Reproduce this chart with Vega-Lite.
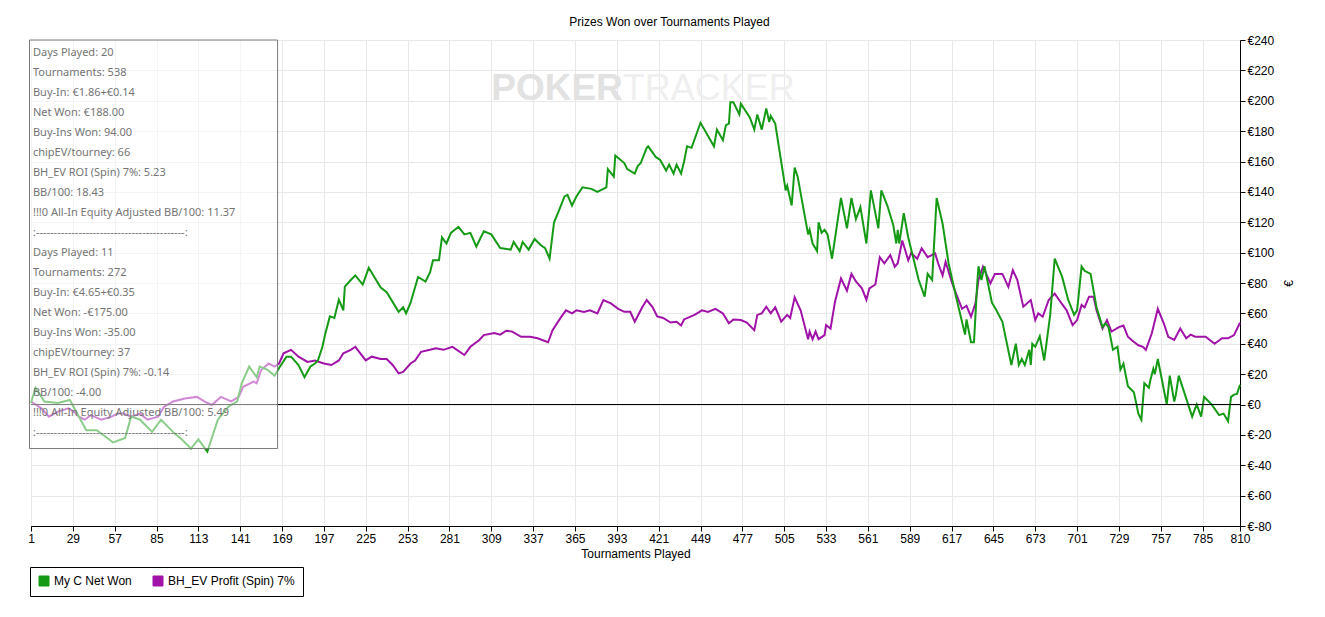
{
  "$schema": "https://vega.github.io/schema/vega-lite/v6.json",
  "width": 1209,
  "height": 486,
  "autosize": {"type": "none"},
  "padding": {"left": 31, "top": 40, "right": 85, "bottom": 91},
  "background": "white",
  "title": {
    "text": "Prizes Won over Tournaments Played",
    "anchor": "middle",
    "dx": 34,
    "offset": 5,
    "font": "Liberation Sans",
    "fontSize": 12,
    "fontWeight": "normal",
    "color": "black"
  },
  "datasets": {
    "profit": [
      {"s": "BH_EV Profit (Spin) 7%", "t": 1, "v": 2},
      {"s": "BH_EV Profit (Spin) 7%", "t": 8, "v": -2.5},
      {"s": "BH_EV Profit (Spin) 7%", "t": 13, "v": -8},
      {"s": "BH_EV Profit (Spin) 7%", "t": 19, "v": -4.7},
      {"s": "BH_EV Profit (Spin) 7%", "t": 26, "v": -2.5},
      {"s": "BH_EV Profit (Spin) 7%", "t": 30, "v": -5},
      {"s": "BH_EV Profit (Spin) 7%", "t": 33, "v": -8},
      {"s": "BH_EV Profit (Spin) 7%", "t": 37, "v": -10},
      {"s": "BH_EV Profit (Spin) 7%", "t": 41, "v": -7},
      {"s": "BH_EV Profit (Spin) 7%", "t": 48, "v": -10},
      {"s": "BH_EV Profit (Spin) 7%", "t": 55, "v": -8},
      {"s": "BH_EV Profit (Spin) 7%", "t": 59, "v": -6},
      {"s": "BH_EV Profit (Spin) 7%", "t": 63, "v": -6},
      {"s": "BH_EV Profit (Spin) 7%", "t": 68, "v": -8},
      {"s": "BH_EV Profit (Spin) 7%", "t": 74, "v": -6},
      {"s": "BH_EV Profit (Spin) 7%", "t": 79, "v": -10},
      {"s": "BH_EV Profit (Spin) 7%", "t": 86, "v": -8},
      {"s": "BH_EV Profit (Spin) 7%", "t": 90, "v": -1.5},
      {"s": "BH_EV Profit (Spin) 7%", "t": 96, "v": 2},
      {"s": "BH_EV Profit (Spin) 7%", "t": 104, "v": 4},
      {"s": "BH_EV Profit (Spin) 7%", "t": 112, "v": 5},
      {"s": "BH_EV Profit (Spin) 7%", "t": 117, "v": 2},
      {"s": "BH_EV Profit (Spin) 7%", "t": 122, "v": -0.3},
      {"s": "BH_EV Profit (Spin) 7%", "t": 128, "v": 5},
      {"s": "BH_EV Profit (Spin) 7%", "t": 135, "v": 2},
      {"s": "BH_EV Profit (Spin) 7%", "t": 140, "v": 5},
      {"s": "BH_EV Profit (Spin) 7%", "t": 143, "v": 11.7},
      {"s": "BH_EV Profit (Spin) 7%", "t": 150, "v": 15},
      {"s": "BH_EV Profit (Spin) 7%", "t": 152, "v": 14},
      {"s": "BH_EV Profit (Spin) 7%", "t": 155, "v": 22.7},
      {"s": "BH_EV Profit (Spin) 7%", "t": 160, "v": 27},
      {"s": "BH_EV Profit (Spin) 7%", "t": 164, "v": 25},
      {"s": "BH_EV Profit (Spin) 7%", "t": 167, "v": 27},
      {"s": "BH_EV Profit (Spin) 7%", "t": 170, "v": 33.7},
      {"s": "BH_EV Profit (Spin) 7%", "t": 175, "v": 36},
      {"s": "BH_EV Profit (Spin) 7%", "t": 180, "v": 31.5},
      {"s": "BH_EV Profit (Spin) 7%", "t": 186, "v": 28},
      {"s": "BH_EV Profit (Spin) 7%", "t": 191, "v": 29},
      {"s": "BH_EV Profit (Spin) 7%", "t": 197, "v": 27},
      {"s": "BH_EV Profit (Spin) 7%", "t": 202, "v": 26},
      {"s": "BH_EV Profit (Spin) 7%", "t": 207, "v": 29},
      {"s": "BH_EV Profit (Spin) 7%", "t": 210, "v": 33.7},
      {"s": "BH_EV Profit (Spin) 7%", "t": 215, "v": 36},
      {"s": "BH_EV Profit (Spin) 7%", "t": 218, "v": 38},
      {"s": "BH_EV Profit (Spin) 7%", "t": 225, "v": 29},
      {"s": "BH_EV Profit (Spin) 7%", "t": 229, "v": 31.5},
      {"s": "BH_EV Profit (Spin) 7%", "t": 235, "v": 30},
      {"s": "BH_EV Profit (Spin) 7%", "t": 239, "v": 30},
      {"s": "BH_EV Profit (Spin) 7%", "t": 243, "v": 26},
      {"s": "BH_EV Profit (Spin) 7%", "t": 247, "v": 20.5},
      {"s": "BH_EV Profit (Spin) 7%", "t": 250, "v": 21.5},
      {"s": "BH_EV Profit (Spin) 7%", "t": 255, "v": 27},
      {"s": "BH_EV Profit (Spin) 7%", "t": 258, "v": 29},
      {"s": "BH_EV Profit (Spin) 7%", "t": 262, "v": 34.7},
      {"s": "BH_EV Profit (Spin) 7%", "t": 268, "v": 36},
      {"s": "BH_EV Profit (Spin) 7%", "t": 272, "v": 37},
      {"s": "BH_EV Profit (Spin) 7%", "t": 277, "v": 36},
      {"s": "BH_EV Profit (Spin) 7%", "t": 283, "v": 38},
      {"s": "BH_EV Profit (Spin) 7%", "t": 286, "v": 36},
      {"s": "BH_EV Profit (Spin) 7%", "t": 291, "v": 32.6},
      {"s": "BH_EV Profit (Spin) 7%", "t": 295, "v": 38},
      {"s": "BH_EV Profit (Spin) 7%", "t": 301, "v": 42.5},
      {"s": "BH_EV Profit (Spin) 7%", "t": 304, "v": 45.7},
      {"s": "BH_EV Profit (Spin) 7%", "t": 311, "v": 47},
      {"s": "BH_EV Profit (Spin) 7%", "t": 315, "v": 46},
      {"s": "BH_EV Profit (Spin) 7%", "t": 319, "v": 48.6},
      {"s": "BH_EV Profit (Spin) 7%", "t": 323, "v": 48},
      {"s": "BH_EV Profit (Spin) 7%", "t": 329, "v": 44.6},
      {"s": "BH_EV Profit (Spin) 7%", "t": 335, "v": 44.6},
      {"s": "BH_EV Profit (Spin) 7%", "t": 340, "v": 43.6},
      {"s": "BH_EV Profit (Spin) 7%", "t": 347, "v": 41},
      {"s": "BH_EV Profit (Spin) 7%", "t": 350, "v": 49},
      {"s": "BH_EV Profit (Spin) 7%", "t": 356, "v": 58},
      {"s": "BH_EV Profit (Spin) 7%", "t": 359, "v": 62},
      {"s": "BH_EV Profit (Spin) 7%", "t": 363, "v": 60},
      {"s": "BH_EV Profit (Spin) 7%", "t": 366, "v": 62},
      {"s": "BH_EV Profit (Spin) 7%", "t": 371, "v": 61},
      {"s": "BH_EV Profit (Spin) 7%", "t": 375, "v": 62},
      {"s": "BH_EV Profit (Spin) 7%", "t": 380, "v": 60},
      {"s": "BH_EV Profit (Spin) 7%", "t": 384, "v": 68.8},
      {"s": "BH_EV Profit (Spin) 7%", "t": 389, "v": 66.6},
      {"s": "BH_EV Profit (Spin) 7%", "t": 394, "v": 63},
      {"s": "BH_EV Profit (Spin) 7%", "t": 398, "v": 61},
      {"s": "BH_EV Profit (Spin) 7%", "t": 402, "v": 61},
      {"s": "BH_EV Profit (Spin) 7%", "t": 405, "v": 54.5},
      {"s": "BH_EV Profit (Spin) 7%", "t": 410, "v": 64},
      {"s": "BH_EV Profit (Spin) 7%", "t": 413, "v": 68.8},
      {"s": "BH_EV Profit (Spin) 7%", "t": 417, "v": 64},
      {"s": "BH_EV Profit (Spin) 7%", "t": 420, "v": 58},
      {"s": "BH_EV Profit (Spin) 7%", "t": 424, "v": 57},
      {"s": "BH_EV Profit (Spin) 7%", "t": 429, "v": 54},
      {"s": "BH_EV Profit (Spin) 7%", "t": 433, "v": 54.5},
      {"s": "BH_EV Profit (Spin) 7%", "t": 436, "v": 52},
      {"s": "BH_EV Profit (Spin) 7%", "t": 438, "v": 56},
      {"s": "BH_EV Profit (Spin) 7%", "t": 445, "v": 59},
      {"s": "BH_EV Profit (Spin) 7%", "t": 450, "v": 62},
      {"s": "BH_EV Profit (Spin) 7%", "t": 454, "v": 61},
      {"s": "BH_EV Profit (Spin) 7%", "t": 459, "v": 63},
      {"s": "BH_EV Profit (Spin) 7%", "t": 464, "v": 60},
      {"s": "BH_EV Profit (Spin) 7%", "t": 468, "v": 53.5},
      {"s": "BH_EV Profit (Spin) 7%", "t": 471, "v": 56},
      {"s": "BH_EV Profit (Spin) 7%", "t": 476, "v": 55.6},
      {"s": "BH_EV Profit (Spin) 7%", "t": 480, "v": 54},
      {"s": "BH_EV Profit (Spin) 7%", "t": 485, "v": 49},
      {"s": "BH_EV Profit (Spin) 7%", "t": 487, "v": 59},
      {"s": "BH_EV Profit (Spin) 7%", "t": 490, "v": 60},
      {"s": "BH_EV Profit (Spin) 7%", "t": 493, "v": 64.4},
      {"s": "BH_EV Profit (Spin) 7%", "t": 496, "v": 60},
      {"s": "BH_EV Profit (Spin) 7%", "t": 499, "v": 64},
      {"s": "BH_EV Profit (Spin) 7%", "t": 503, "v": 54.5},
      {"s": "BH_EV Profit (Spin) 7%", "t": 507, "v": 59},
      {"s": "BH_EV Profit (Spin) 7%", "t": 509, "v": 57},
      {"s": "BH_EV Profit (Spin) 7%", "t": 512, "v": 70.6},
      {"s": "BH_EV Profit (Spin) 7%", "t": 516, "v": 62},
      {"s": "BH_EV Profit (Spin) 7%", "t": 521, "v": 43},
      {"s": "BH_EV Profit (Spin) 7%", "t": 522, "v": 48},
      {"s": "BH_EV Profit (Spin) 7%", "t": 524, "v": 43},
      {"s": "BH_EV Profit (Spin) 7%", "t": 526, "v": 48},
      {"s": "BH_EV Profit (Spin) 7%", "t": 528, "v": 43},
      {"s": "BH_EV Profit (Spin) 7%", "t": 532, "v": 45.7},
      {"s": "BH_EV Profit (Spin) 7%", "t": 533, "v": 52.3},
      {"s": "BH_EV Profit (Spin) 7%", "t": 536, "v": 50},
      {"s": "BH_EV Profit (Spin) 7%", "t": 539, "v": 67.7},
      {"s": "BH_EV Profit (Spin) 7%", "t": 543, "v": 83},
      {"s": "BH_EV Profit (Spin) 7%", "t": 547, "v": 75},
      {"s": "BH_EV Profit (Spin) 7%", "t": 550, "v": 86},
      {"s": "BH_EV Profit (Spin) 7%", "t": 553, "v": 81},
      {"s": "BH_EV Profit (Spin) 7%", "t": 557, "v": 76.5},
      {"s": "BH_EV Profit (Spin) 7%", "t": 560, "v": 69},
      {"s": "BH_EV Profit (Spin) 7%", "t": 562, "v": 76.5},
      {"s": "BH_EV Profit (Spin) 7%", "t": 566, "v": 79},
      {"s": "BH_EV Profit (Spin) 7%", "t": 569, "v": 97},
      {"s": "BH_EV Profit (Spin) 7%", "t": 572, "v": 93},
      {"s": "BH_EV Profit (Spin) 7%", "t": 576, "v": 98.4},
      {"s": "BH_EV Profit (Spin) 7%", "t": 579, "v": 90.7},
      {"s": "BH_EV Profit (Spin) 7%", "t": 581, "v": 93},
      {"s": "BH_EV Profit (Spin) 7%", "t": 584, "v": 108},
      {"s": "BH_EV Profit (Spin) 7%", "t": 588, "v": 95},
      {"s": "BH_EV Profit (Spin) 7%", "t": 590, "v": 99.7},
      {"s": "BH_EV Profit (Spin) 7%", "t": 594, "v": 96},
      {"s": "BH_EV Profit (Spin) 7%", "t": 597, "v": 102.8},
      {"s": "BH_EV Profit (Spin) 7%", "t": 601, "v": 97},
      {"s": "BH_EV Profit (Spin) 7%", "t": 606, "v": 99.5},
      {"s": "BH_EV Profit (Spin) 7%", "t": 608, "v": 93},
      {"s": "BH_EV Profit (Spin) 7%", "t": 611, "v": 85},
      {"s": "BH_EV Profit (Spin) 7%", "t": 613, "v": 94},
      {"s": "BH_EV Profit (Spin) 7%", "t": 617, "v": 81},
      {"s": "BH_EV Profit (Spin) 7%", "t": 620, "v": 73},
      {"s": "BH_EV Profit (Spin) 7%", "t": 624, "v": 63},
      {"s": "BH_EV Profit (Spin) 7%", "t": 627, "v": 65},
      {"s": "BH_EV Profit (Spin) 7%", "t": 630, "v": 57.8},
      {"s": "BH_EV Profit (Spin) 7%", "t": 633, "v": 66.6},
      {"s": "BH_EV Profit (Spin) 7%", "t": 635, "v": 82},
      {"s": "BH_EV Profit (Spin) 7%", "t": 638, "v": 90.7},
      {"s": "BH_EV Profit (Spin) 7%", "t": 643, "v": 79.8},
      {"s": "BH_EV Profit (Spin) 7%", "t": 646, "v": 86},
      {"s": "BH_EV Profit (Spin) 7%", "t": 651, "v": 86},
      {"s": "BH_EV Profit (Spin) 7%", "t": 655, "v": 77.5},
      {"s": "BH_EV Profit (Spin) 7%", "t": 658, "v": 88.5},
      {"s": "BH_EV Profit (Spin) 7%", "t": 661, "v": 82},
      {"s": "BH_EV Profit (Spin) 7%", "t": 665, "v": 64.4},
      {"s": "BH_EV Profit (Spin) 7%", "t": 670, "v": 68.8},
      {"s": "BH_EV Profit (Spin) 7%", "t": 673, "v": 55.6},
      {"s": "BH_EV Profit (Spin) 7%", "t": 675, "v": 60},
      {"s": "BH_EV Profit (Spin) 7%", "t": 678, "v": 57.8},
      {"s": "BH_EV Profit (Spin) 7%", "t": 682, "v": 68.8},
      {"s": "BH_EV Profit (Spin) 7%", "t": 686, "v": 73},
      {"s": "BH_EV Profit (Spin) 7%", "t": 689, "v": 68.8},
      {"s": "BH_EV Profit (Spin) 7%", "t": 694, "v": 62},
      {"s": "BH_EV Profit (Spin) 7%", "t": 698, "v": 52.3},
      {"s": "BH_EV Profit (Spin) 7%", "t": 701, "v": 55.6},
      {"s": "BH_EV Profit (Spin) 7%", "t": 704, "v": 65.5},
      {"s": "BH_EV Profit (Spin) 7%", "t": 706, "v": 64},
      {"s": "BH_EV Profit (Spin) 7%", "t": 709, "v": 71},
      {"s": "BH_EV Profit (Spin) 7%", "t": 712, "v": 71},
      {"s": "BH_EV Profit (Spin) 7%", "t": 714, "v": 62},
      {"s": "BH_EV Profit (Spin) 7%", "t": 718, "v": 50},
      {"s": "BH_EV Profit (Spin) 7%", "t": 721, "v": 55.6},
      {"s": "BH_EV Profit (Spin) 7%", "t": 724, "v": 48},
      {"s": "BH_EV Profit (Spin) 7%", "t": 729, "v": 51},
      {"s": "BH_EV Profit (Spin) 7%", "t": 732, "v": 52},
      {"s": "BH_EV Profit (Spin) 7%", "t": 735, "v": 44.6},
      {"s": "BH_EV Profit (Spin) 7%", "t": 738, "v": 42},
      {"s": "BH_EV Profit (Spin) 7%", "t": 742, "v": 39},
      {"s": "BH_EV Profit (Spin) 7%", "t": 745, "v": 38},
      {"s": "BH_EV Profit (Spin) 7%", "t": 747, "v": 36},
      {"s": "BH_EV Profit (Spin) 7%", "t": 751, "v": 46.9},
      {"s": "BH_EV Profit (Spin) 7%", "t": 755, "v": 63},
      {"s": "BH_EV Profit (Spin) 7%", "t": 759, "v": 53.5},
      {"s": "BH_EV Profit (Spin) 7%", "t": 762, "v": 44.6},
      {"s": "BH_EV Profit (Spin) 7%", "t": 766, "v": 42.5},
      {"s": "BH_EV Profit (Spin) 7%", "t": 770, "v": 50},
      {"s": "BH_EV Profit (Spin) 7%", "t": 774, "v": 43.6},
      {"s": "BH_EV Profit (Spin) 7%", "t": 777, "v": 46},
      {"s": "BH_EV Profit (Spin) 7%", "t": 780, "v": 44.6},
      {"s": "BH_EV Profit (Spin) 7%", "t": 787, "v": 44.6},
      {"s": "BH_EV Profit (Spin) 7%", "t": 793, "v": 40},
      {"s": "BH_EV Profit (Spin) 7%", "t": 798, "v": 43.6},
      {"s": "BH_EV Profit (Spin) 7%", "t": 802, "v": 43.6},
      {"s": "BH_EV Profit (Spin) 7%", "t": 806, "v": 45.7},
      {"s": "BH_EV Profit (Spin) 7%", "t": 810, "v": 53.8},
      {"s": "My C Net Won", "t": 1, "v": 1},
      {"s": "My C Net Won", "t": 4, "v": 11},
      {"s": "My C Net Won", "t": 10, "v": 2},
      {"s": "My C Net Won", "t": 19, "v": 1},
      {"s": "My C Net Won", "t": 27, "v": 3},
      {"s": "My C Net Won", "t": 38, "v": -17},
      {"s": "My C Net Won", "t": 45, "v": -17},
      {"s": "My C Net Won", "t": 56, "v": -25},
      {"s": "My C Net Won", "t": 64, "v": -22},
      {"s": "My C Net Won", "t": 68, "v": -8},
      {"s": "My C Net Won", "t": 74, "v": -10},
      {"s": "My C Net Won", "t": 82, "v": -18},
      {"s": "My C Net Won", "t": 88, "v": -10},
      {"s": "My C Net Won", "t": 97, "v": -19},
      {"s": "My C Net Won", "t": 102, "v": -23},
      {"s": "My C Net Won", "t": 108, "v": -29},
      {"s": "My C Net Won", "t": 113, "v": -23},
      {"s": "My C Net Won", "t": 119, "v": -31},
      {"s": "My C Net Won", "t": 126, "v": -10},
      {"s": "My C Net Won", "t": 133, "v": -1.5},
      {"s": "My C Net Won", "t": 139, "v": 2},
      {"s": "My C Net Won", "t": 142, "v": 14},
      {"s": "My C Net Won", "t": 147, "v": 25},
      {"s": "My C Net Won", "t": 152, "v": 18},
      {"s": "My C Net Won", "t": 154, "v": 25},
      {"s": "My C Net Won", "t": 159, "v": 23},
      {"s": "My C Net Won", "t": 164, "v": 19},
      {"s": "My C Net Won", "t": 167, "v": 24},
      {"s": "My C Net Won", "t": 172, "v": 31.5},
      {"s": "My C Net Won", "t": 175, "v": 31.5},
      {"s": "My C Net Won", "t": 180, "v": 26},
      {"s": "My C Net Won", "t": 184, "v": 18},
      {"s": "My C Net Won", "t": 188, "v": 25},
      {"s": "My C Net Won", "t": 191, "v": 27},
      {"s": "My C Net Won", "t": 193, "v": 29},
      {"s": "My C Net Won", "t": 196, "v": 38},
      {"s": "My C Net Won", "t": 198, "v": 47},
      {"s": "My C Net Won", "t": 201, "v": 58},
      {"s": "My C Net Won", "t": 204, "v": 57},
      {"s": "My C Net Won", "t": 207, "v": 69},
      {"s": "My C Net Won", "t": 210, "v": 62},
      {"s": "My C Net Won", "t": 211, "v": 77.6},
      {"s": "My C Net Won", "t": 215, "v": 82},
      {"s": "My C Net Won", "t": 218, "v": 85},
      {"s": "My C Net Won", "t": 223, "v": 79},
      {"s": "My C Net Won", "t": 227, "v": 90},
      {"s": "My C Net Won", "t": 235, "v": 77},
      {"s": "My C Net Won", "t": 239, "v": 74},
      {"s": "My C Net Won", "t": 247, "v": 61},
      {"s": "My C Net Won", "t": 250, "v": 64},
      {"s": "My C Net Won", "t": 252, "v": 60},
      {"s": "My C Net Won", "t": 255, "v": 67},
      {"s": "My C Net Won", "t": 260, "v": 84},
      {"s": "My C Net Won", "t": 265, "v": 81},
      {"s": "My C Net Won", "t": 268, "v": 87},
      {"s": "My C Net Won", "t": 270, "v": 95},
      {"s": "My C Net Won", "t": 274, "v": 95},
      {"s": "My C Net Won", "t": 276, "v": 110},
      {"s": "My C Net Won", "t": 279, "v": 106},
      {"s": "My C Net Won", "t": 282, "v": 113},
      {"s": "My C Net Won", "t": 287, "v": 117},
      {"s": "My C Net Won", "t": 291, "v": 112},
      {"s": "My C Net Won", "t": 295, "v": 113},
      {"s": "My C Net Won", "t": 299, "v": 104},
      {"s": "My C Net Won", "t": 304, "v": 114},
      {"s": "My C Net Won", "t": 309, "v": 112},
      {"s": "My C Net Won", "t": 315, "v": 103},
      {"s": "My C Net Won", "t": 322, "v": 102},
      {"s": "My C Net Won", "t": 324, "v": 107},
      {"s": "My C Net Won", "t": 328, "v": 101},
      {"s": "My C Net Won", "t": 330, "v": 107},
      {"s": "My C Net Won", "t": 334, "v": 102},
      {"s": "My C Net Won", "t": 338, "v": 109},
      {"s": "My C Net Won", "t": 342, "v": 105},
      {"s": "My C Net Won", "t": 345, "v": 103},
      {"s": "My C Net Won", "t": 348, "v": 96},
      {"s": "My C Net Won", "t": 351, "v": 120},
      {"s": "My C Net Won", "t": 354, "v": 127},
      {"s": "My C Net Won", "t": 358, "v": 137},
      {"s": "My C Net Won", "t": 360, "v": 138},
      {"s": "My C Net Won", "t": 363, "v": 131},
      {"s": "My C Net Won", "t": 366, "v": 137},
      {"s": "My C Net Won", "t": 370, "v": 143},
      {"s": "My C Net Won", "t": 376, "v": 142},
      {"s": "My C Net Won", "t": 380, "v": 140},
      {"s": "My C Net Won", "t": 386, "v": 143},
      {"s": "My C Net Won", "t": 387, "v": 155},
      {"s": "My C Net Won", "t": 391, "v": 150},
      {"s": "My C Net Won", "t": 392, "v": 164},
      {"s": "My C Net Won", "t": 398, "v": 159},
      {"s": "My C Net Won", "t": 400, "v": 155},
      {"s": "My C Net Won", "t": 405, "v": 152},
      {"s": "My C Net Won", "t": 407, "v": 157},
      {"s": "My C Net Won", "t": 409, "v": 159},
      {"s": "My C Net Won", "t": 413, "v": 169},
      {"s": "My C Net Won", "t": 414, "v": 170},
      {"s": "My C Net Won", "t": 419, "v": 163},
      {"s": "My C Net Won", "t": 422, "v": 161},
      {"s": "My C Net Won", "t": 426, "v": 154},
      {"s": "My C Net Won", "t": 428, "v": 158},
      {"s": "My C Net Won", "t": 431, "v": 152},
      {"s": "My C Net Won", "t": 433, "v": 158},
      {"s": "My C Net Won", "t": 436, "v": 152},
      {"s": "My C Net Won", "t": 438, "v": 160},
      {"s": "My C Net Won", "t": 440, "v": 170},
      {"s": "My C Net Won", "t": 443, "v": 169},
      {"s": "My C Net Won", "t": 449, "v": 185.5},
      {"s": "My C Net Won", "t": 458, "v": 170},
      {"s": "My C Net Won", "t": 460, "v": 181},
      {"s": "My C Net Won", "t": 464, "v": 174},
      {"s": "My C Net Won", "t": 466, "v": 184},
      {"s": "My C Net Won", "t": 468, "v": 185},
      {"s": "My C Net Won", "t": 469, "v": 199},
      {"s": "My C Net Won", "t": 471, "v": 199},
      {"s": "My C Net Won", "t": 475, "v": 191},
      {"s": "My C Net Won", "t": 476, "v": 198},
      {"s": "My C Net Won", "t": 482, "v": 189},
      {"s": "My C Net Won", "t": 485, "v": 181},
      {"s": "My C Net Won", "t": 487, "v": 191},
      {"s": "My C Net Won", "t": 490, "v": 181},
      {"s": "My C Net Won", "t": 493, "v": 195},
      {"s": "My C Net Won", "t": 495, "v": 186},
      {"s": "My C Net Won", "t": 496, "v": 190},
      {"s": "My C Net Won", "t": 499, "v": 185},
      {"s": "My C Net Won", "t": 506, "v": 141},
      {"s": "My C Net Won", "t": 507, "v": 144},
      {"s": "My C Net Won", "t": 510, "v": 131},
      {"s": "My C Net Won", "t": 512, "v": 156},
      {"s": "My C Net Won", "t": 514, "v": 150},
      {"s": "My C Net Won", "t": 521, "v": 112},
      {"s": "My C Net Won", "t": 522, "v": 115},
      {"s": "My C Net Won", "t": 524, "v": 106},
      {"s": "My C Net Won", "t": 527, "v": 101},
      {"s": "My C Net Won", "t": 528, "v": 120},
      {"s": "My C Net Won", "t": 530, "v": 113},
      {"s": "My C Net Won", "t": 532, "v": 115},
      {"s": "My C Net Won", "t": 534, "v": 112},
      {"s": "My C Net Won", "t": 537, "v": 96},
      {"s": "My C Net Won", "t": 543, "v": 136},
      {"s": "My C Net Won", "t": 547, "v": 116},
      {"s": "My C Net Won", "t": 550, "v": 136},
      {"s": "My C Net Won", "t": 553, "v": 122},
      {"s": "My C Net Won", "t": 556, "v": 130},
      {"s": "My C Net Won", "t": 560, "v": 106},
      {"s": "My C Net Won", "t": 563, "v": 141},
      {"s": "My C Net Won", "t": 568, "v": 116},
      {"s": "My C Net Won", "t": 570, "v": 141},
      {"s": "My C Net Won", "t": 574, "v": 131},
      {"s": "My C Net Won", "t": 578, "v": 118},
      {"s": "My C Net Won", "t": 580, "v": 106},
      {"s": "My C Net Won", "t": 581, "v": 115},
      {"s": "My C Net Won", "t": 582, "v": 106},
      {"s": "My C Net Won", "t": 585, "v": 126},
      {"s": "My C Net Won", "t": 588, "v": 110},
      {"s": "My C Net Won", "t": 595, "v": 82},
      {"s": "My C Net Won", "t": 599, "v": 71},
      {"s": "My C Net Won", "t": 601, "v": 86},
      {"s": "My C Net Won", "t": 604, "v": 82},
      {"s": "My C Net Won", "t": 607, "v": 136},
      {"s": "My C Net Won", "t": 611, "v": 119},
      {"s": "My C Net Won", "t": 615, "v": 93},
      {"s": "My C Net Won", "t": 620, "v": 71},
      {"s": "My C Net Won", "t": 626, "v": 46},
      {"s": "My C Net Won", "t": 627, "v": 56},
      {"s": "My C Net Won", "t": 630, "v": 41},
      {"s": "My C Net Won", "t": 632, "v": 41},
      {"s": "My C Net Won", "t": 634, "v": 77},
      {"s": "My C Net Won", "t": 635, "v": 91},
      {"s": "My C Net Won", "t": 637, "v": 82},
      {"s": "My C Net Won", "t": 639, "v": 91},
      {"s": "My C Net Won", "t": 644, "v": 67},
      {"s": "My C Net Won", "t": 647, "v": 62},
      {"s": "My C Net Won", "t": 651, "v": 54.5},
      {"s": "My C Net Won", "t": 657, "v": 26},
      {"s": "My C Net Won", "t": 660, "v": 40},
      {"s": "My C Net Won", "t": 662, "v": 26},
      {"s": "My C Net Won", "t": 664, "v": 30},
      {"s": "My C Net Won", "t": 666, "v": 26},
      {"s": "My C Net Won", "t": 669, "v": 36},
      {"s": "My C Net Won", "t": 670, "v": 26},
      {"s": "My C Net Won", "t": 671, "v": 40},
      {"s": "My C Net Won", "t": 673, "v": 38},
      {"s": "My C Net Won", "t": 676, "v": 45},
      {"s": "My C Net Won", "t": 679, "v": 29},
      {"s": "My C Net Won", "t": 683, "v": 59},
      {"s": "My C Net Won", "t": 686, "v": 96},
      {"s": "My C Net Won", "t": 691, "v": 84},
      {"s": "My C Net Won", "t": 695, "v": 69},
      {"s": "My C Net Won", "t": 699, "v": 59},
      {"s": "My C Net Won", "t": 701, "v": 62},
      {"s": "My C Net Won", "t": 704, "v": 91},
      {"s": "My C Net Won", "t": 706, "v": 88},
      {"s": "My C Net Won", "t": 710, "v": 86},
      {"s": "My C Net Won", "t": 714, "v": 64},
      {"s": "My C Net Won", "t": 718, "v": 51},
      {"s": "My C Net Won", "t": 720, "v": 53.5},
      {"s": "My C Net Won", "t": 722, "v": 51},
      {"s": "My C Net Won", "t": 725, "v": 36},
      {"s": "My C Net Won", "t": 728, "v": 38},
      {"s": "My C Net Won", "t": 730, "v": 23},
      {"s": "My C Net Won", "t": 732, "v": 27},
      {"s": "My C Net Won", "t": 735, "v": 12},
      {"s": "My C Net Won", "t": 739, "v": 8},
      {"s": "My C Net Won", "t": 742, "v": -6},
      {"s": "My C Net Won", "t": 744, "v": -10},
      {"s": "My C Net Won", "t": 746, "v": 14},
      {"s": "My C Net Won", "t": 749, "v": 11},
      {"s": "My C Net Won", "t": 750, "v": 16},
      {"s": "My C Net Won", "t": 752, "v": 23.5},
      {"s": "My C Net Won", "t": 753, "v": 20},
      {"s": "My C Net Won", "t": 755, "v": 30},
      {"s": "My C Net Won", "t": 761, "v": 0},
      {"s": "My C Net Won", "t": 763, "v": 19},
      {"s": "My C Net Won", "t": 766, "v": 2},
      {"s": "My C Net Won", "t": 767, "v": 6},
      {"s": "My C Net Won", "t": 769, "v": 19},
      {"s": "My C Net Won", "t": 774, "v": 4},
      {"s": "My C Net Won", "t": 778, "v": -8},
      {"s": "My C Net Won", "t": 781, "v": 0},
      {"s": "My C Net Won", "t": 784, "v": -8},
      {"s": "My C Net Won", "t": 786, "v": 5},
      {"s": "My C Net Won", "t": 791, "v": 0},
      {"s": "My C Net Won", "t": 796, "v": -7},
      {"s": "My C Net Won", "t": 799, "v": -6},
      {"s": "My C Net Won", "t": 802, "v": -11},
      {"s": "My C Net Won", "t": 804, "v": 5},
      {"s": "My C Net Won", "t": 806, "v": 6.5},
      {"s": "My C Net Won", "t": 808, "v": 7},
      {"s": "My C Net Won", "t": 810, "v": 13}
    ]
  },
  "resolve": {"axis": {"x": "independent", "y": "independent"}},
  "layer": [
    {
      "data": {"name": "profit"},
      "mark": {"type": "line", "strokeWidth": 2, "interpolate": "linear"},
      "encoding": {
        "x": {
          "field": "t",
          "type": "quantitative",
          "scale": {"domain": [1, 810], "nice": false, "zero": false},
          "axis": {
            "title": "Tournaments Played",
            "grid": true,
            "values": [1, 29, 57, 85, 113, 141, 169, 197, 225, 253, 281, 309, 337, 365, 393, 421, 449, 477, 505, 533, 561, 589, 617, 645, 673, 701, 729, 757, 785, 810],
            "labelFlush": false,
            "labelOverlap": false,
            "titlePadding": 4
          }
        },
        "y": {
          "field": "v",
          "type": "quantitative",
          "scale": {"domain": [-80, 240], "nice": false, "zero": false},
          "axis": {
            "orient": "right",
            "grid": true,
            "title": "€",
            "titleAngle": 270,
            "titleBaseline": "middle",
            "titlePadding": 15,
            "values": [-80, -60, -40, -20, 0, 20, 40, 60, 80, 100, 120, 140, 160, 180, 200, 220, 240],
            "tickCount": 17,
            "labelExpr": "'€' + datum.value",
            "labelOverlap": false,
            "labelFlush": false
          }
        },
        "color": {
          "field": "s",
          "type": "nominal",
          "scale": {"domain": ["My C Net Won", "BH_EV Profit (Spin) 7%"], "range": ["#159a15", "#a012a8"]},
          "legend": {
            "title": null,
            "orient": "none",
            "legendX": -1,
            "legendY": 527,
            "direction": "horizontal",
            "columns": 2,
            "columnPadding": 19,
            "padding": 8,
            "strokeColor": "black",
            "fillColor": "white",
            "symbolType": "square",
            "symbolSize": 100,
            "labelOffset": 4,
            "labelFont": "Liberation Sans",
            "labelFontSize": 12,
            "labelColor": "black",
            "encode": {
              "symbols": {
                "update": {
                  "fill": {"scale": "color", "field": "value"},
                  "stroke": {"value": "black"},
                  "strokeWidth": {"value": 1},
                  "opacity": {"value": 1}
                }
              }
            }
          }
        },
        "order": {"field": "t", "type": "quantitative"}
      }
    },
    {
      "data": {"values": [{}]},
      "mark": {"type": "text", "text": "POKER", "align": "right", "baseline": "alphabetic", "font": "Liberation Sans", "fontWeight": "bold", "fontSize": 37, "color": "#e2e2e2"},
      "encoding": {
        "x": {"datum": 397, "type": "quantitative", "axis": null},
        "y": {"datum": 200.5, "type": "quantitative", "axis": null}
      }
    },
    {
      "data": {"values": [{}]},
      "mark": {"type": "text", "text": "TRACKER", "align": "left", "baseline": "alphabetic", "font": "Liberation Sans", "fontSize": 36, "color": "#efefef"},
      "encoding": {
        "x": {"datum": 397, "type": "quantitative", "axis": null},
        "y": {"datum": 200.5, "type": "quantitative", "axis": null}
      }
    },
    {
      "data": {"values": [{}]},
      "mark": {"type": "rule", "color": "black", "strokeWidth": 1},
      "encoding": {"y": {"datum": 0, "type": "quantitative", "axis": null}}
    },
    {
      "data": {"values": [{}]},
      "mark": {"type": "rect", "fill": "white", "fillOpacity": 0.5, "stroke": "#7a7a7a", "strokeWidth": 1},
      "encoding": {
        "x": {"datum": 0, "type": "quantitative", "axis": null},
        "x2": {"datum": 166},
        "y": {"datum": 240, "type": "quantitative", "axis": null},
        "y2": {"datum": -29}
      }
    },
    {
      "data": {"values": [{}]},
      "mark": {
        "type": "text",
        "align": "left",
        "baseline": "top",
        "dy": 7,
        "lineHeight": 20,
        "font": "Noto Sans",
        "fontSize": 11,
        "color": "#747474",
        "text": [
          "Days Played: 20",
          "Tournaments: 538",
          "Buy-In: €1.86+€0.14",
          "Net Won: €188.00",
          "Buy-Ins Won: 94.00",
          "chipEV/tourney: 66",
          "BH_EV ROI (Spin) 7%: 5.23",
          "BB/100: 18.43",
          "!!!0 All-In Equity Adjusted BB/100: 11.37",
          ":------------------------------------------:",
          "Days Played: 11",
          "Tournaments: 272",
          "Buy-In: €4.65+€0.35",
          "Net Won: -€175.00",
          "Buy-Ins Won: -35.00",
          "chipEV/tourney: 37",
          "BH_EV ROI (Spin) 7%: -0.14",
          "BB/100: -4.00",
          "!!!0 All-In Equity Adjusted BB/100: 5.49",
          ":------------------------------------------:"
        ]
      },
      "encoding": {
        "x": {"datum": 2.3, "type": "quantitative", "axis": null},
        "y": {"datum": 240, "type": "quantitative", "axis": null}
      }
    }
  ],
  "config": {
    "font": "Liberation Sans",
    "view": {"stroke": "black", "strokeWidth": 1},
    "axis": {
      "labelFont": "Liberation Sans",
      "labelFontSize": 12,
      "labelColor": "black",
      "labelPadding": 2,
      "labelOverlap": false,
      "titleFont": "Liberation Sans",
      "titleFontSize": 12,
      "titleFontWeight": "normal",
      "titleColor": "black",
      "tickColor": "black",
      "tickSize": 5,
      "domainColor": "black",
      "grid": true,
      "gridColor": "#e8e8e8",
      "gridWidth": 1
    }
  }
}
